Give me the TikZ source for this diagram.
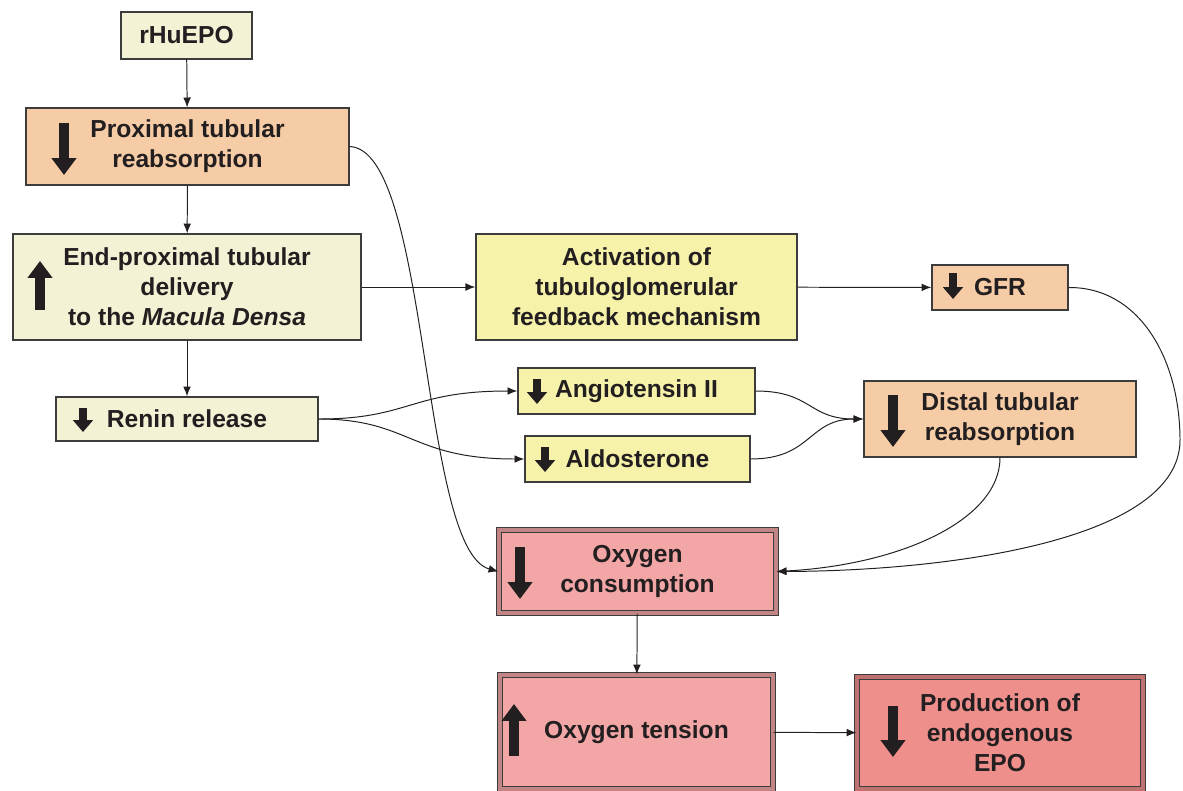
\documentclass[tikz,border=0pt]{standalone}
\usepackage{fontspec}
\setmainfont{Liberation Sans}
\usetikzlibrary{arrows,arrows.meta,positioning}

\definecolor{cream}{RGB}{243,242,212}
\definecolor{lemon}{RGB}{247,242,170}
\definecolor{peach}{RGB}{245,204,165}
\definecolor{rose}{RGB}{242,166,166}
\definecolor{salmon}{RGB}{239,143,140}
\definecolor{edge}{RGB}{60,60,60}
\definecolor{ink}{RGB}{35,31,32}

\begin{document}
\begin{tikzpicture}[
x=0.025cm,y=-0.025cm,
box/.style={
  draw=edge,
  line width=0.9pt,
  inner sep=0pt,
  align=center,
  text=ink,
  font=\bfseries\fontsize{17.5}{21.3}\selectfont
},
dbox/.style={
  box,
  line width=0.8pt,
  double=#1!80!black,
  double distance=2.4pt
},
link/.style={
  draw=ink,
  line width=0.7pt,
  -{Latex[length=7pt,width=5.5pt]}
},
bigarr/.style={
  draw=ink,
  line width=7pt,
  -{Triangle[width=17pt,length=12pt]}
},
smallarr/.style={
  draw=ink,
  line width=5.5pt,
  -{Triangle[width=14pt,length=8.5pt]}
}
]
\useasboundingbox (0,0) rectangle (1183,790);

% left column
\node[box,fill=cream,minimum width=3.275cm,minimum height=1.175cm]
  (epo) at (186.5,35.5) {rHuEPO};
\node[box,fill=peach,minimum width=8.075cm,minimum height=1.925cm]
  (prox) at (187.5,146.5) {Proximal tubular\\reabsorption};
\node[box,fill=cream,minimum width=8.7cm,minimum height=2.65cm]
  (endprox) at (187,287) {End-proximal tubular\\delivery\\to the \textit{Macula Densa}};
\node[box,fill=cream,minimum width=6.55cm,minimum height=1.1cm]
  (renin) at (187,419) {Renin release};

% middle column
\node[box,fill=lemon,minimum width=8.025cm,minimum height=2.65cm]
  (tgf) at (636.5,287) {Activation of\\tubuloglomerular\\feedback mechanism};
\node[box,fill=lemon,minimum width=5.925cm,minimum height=1.15cm]
  (angio) at (636.5,391) {Angiotensin II};
\node[box,fill=lemon,minimum width=5.625cm,minimum height=1.15cm]
  (aldo) at (637.5,459) {Aldosterone};
\node[dbox=rose,fill=rose,minimum width=6.925cm,minimum height=2.075cm]
  (cons) at (637.5,571.5) {Oxygen\\consumption};
\node[dbox=rose,fill=rose,minimum width=6.825cm,minimum height=2.85cm]
  (tens) at (636.5,732) {Oxygen tension};

% right column
\node[box,fill=peach,minimum width=3.4cm,minimum height=1.125cm]
  (gfr) at (1000,287.5) {GFR};
\node[box,fill=peach,minimum width=6.8cm,minimum height=1.9cm]
  (distal) at (1000,419) {Distal tubular\\reabsorption};
\node[dbox=salmon,fill=salmon,minimum width=7.15cm,minimum height=2.8cm]
  (epoprod) at (1000,733) {Production of\\endogenous\\EPO};

% up and down marks
\draw[bigarr] (64,123) -- (64,175);
\draw[bigarr] (40,310) -- (40,261);
\draw[smallarr] (83,408) -- (83,432);
\draw[smallarr] (953,273) -- (953,299);
\draw[smallarr] (537,379) -- (537,404);
\draw[smallarr] (545,447) -- (545,472);
\draw[bigarr] (893,395) -- (893,447);
\draw[bigarr] (520,547) -- (520,599);
\draw[bigarr] (514,756) -- (514,704);
\draw[bigarr] (893,706) -- (893,757);

% connectors
\draw[link] (epo) -- (prox);
\draw[link] (prox) -- (endprox);
\draw[link] (endprox) -- (renin);
\draw[link] (endprox) -- (tgf);
\draw[link] (tgf) -- (gfr);
\draw[link] (renin.east) .. controls (410,419) and (410,391) .. (angio.west);
\draw[link] (renin.east) .. controls (410,419) and (410,459) .. (aldo.west);
\draw[link] (angio.east) .. controls (812,391) and (808,419) .. (distal.west);
\draw[link] (aldo.east) .. controls (812,459) and (808,419) .. (distal.west);
\draw[link] (prox.east) .. controls (430,150) and (420,550) .. (cons.west);
\draw[link] (gfr.east) .. controls (1140,287) and (1180,360) .. (1180,440)
  .. controls (1180,540) and (950,571) .. (cons.east);
\draw[link] (distal.south) .. controls (1000,520) and (900,565) .. (cons.east);
\draw[link] (cons) -- (tens);
\draw[link] (tens) -- (epoprod);
\end{tikzpicture}
\end{document}
